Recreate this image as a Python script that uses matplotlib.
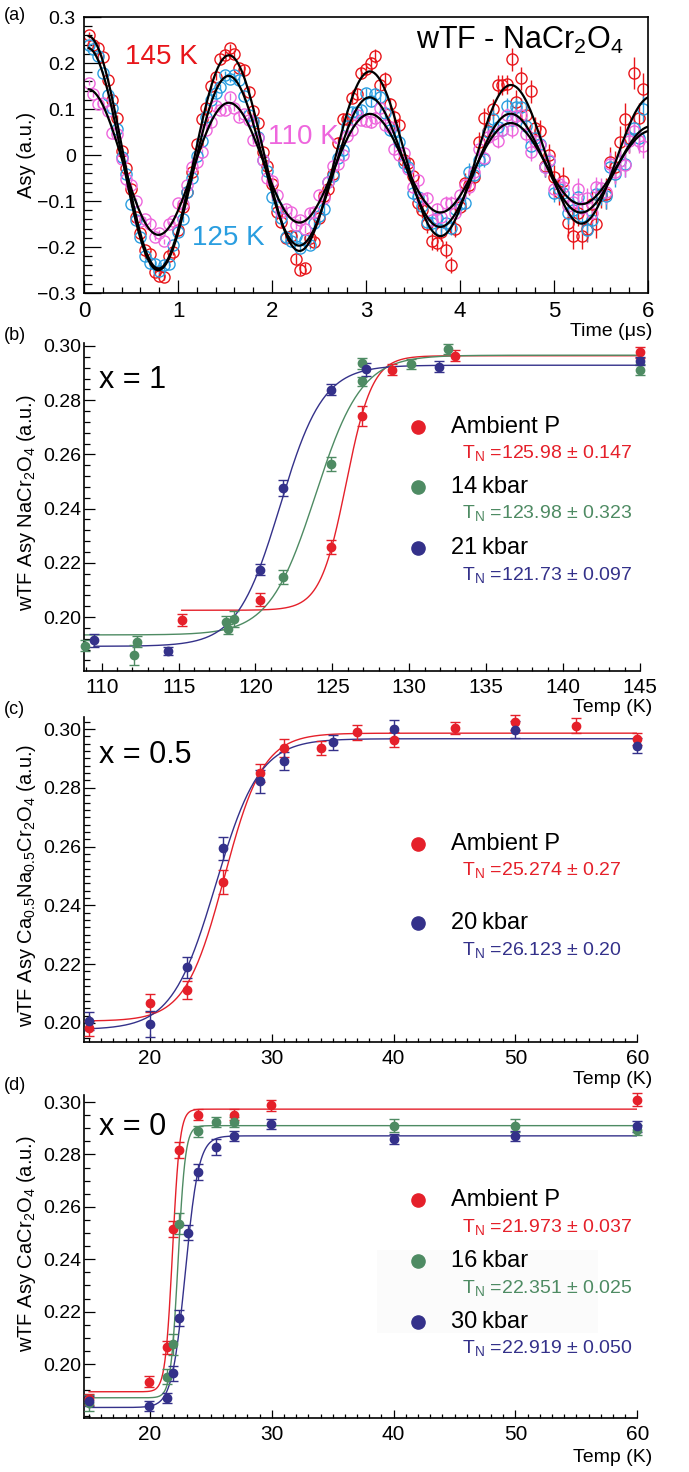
import numpy as np
import matplotlib.pyplot as plt
from matplotlib.ticker import MultipleLocator, FixedLocator, FuncFormatter
from matplotlib.lines import Line2D
from matplotlib.patches import Rectangle

plt.rcParams['font.family'] = ['Liberation Sans', 'DejaVu Sans']
plt.rcParams['mathtext.fontset'] = 'custom'
plt.rcParams['mathtext.rm'] = 'Liberation Sans'
plt.rcParams['mathtext.it'] = 'Liberation Sans:italic'
plt.rcParams['mathtext.default'] = 'regular'

# ---------------- panel (a): wTF time spectra ----------------
time_us = np.arange(0.05, 5.96, 0.05)   # 0.05 us bins

asy_145K = [0.261, 0.240, 0.233, 0.214, 0.162, 0.120, 0.080, 0.009, -0.028, -0.074,
            -0.135, -0.170, -0.206, -0.215, -0.254, -0.262, -0.265, -0.219, -0.210, -0.162,
            -0.114, -0.081, -0.038, 0.025, 0.079, 0.103, 0.149, 0.170, 0.208, 0.218,
            0.232, 0.220, 0.190, 0.184, 0.138, 0.095, 0.069, 0.006, -0.024, -0.063,
            -0.123, -0.145, -0.180, -0.176, -0.226, -0.250, -0.246, -0.180, -0.190, -0.137,
            -0.089, -0.073, -0.041, 0.027, 0.078, 0.079, 0.125, 0.132, 0.179, 0.186,
            0.199, 0.216, 0.153, 0.166, 0.110, 0.083, 0.065, -0.010, -0.018, -0.045,
            -0.105, -0.120, -0.151, -0.188, -0.191, -0.168, -0.206, -0.239, -0.161, -0.113,
            -0.060, -0.066, -0.047, 0.029, 0.081, 0.052, 0.100, 0.152, 0.152, 0.154,
            0.208, 0.116, 0.167, 0.086, 0.139, 0.058, 0.052, -0.023, 0.000, -0.047,
            -0.080, -0.056, -0.147, -0.175, -0.126, -0.175, -0.161, -0.106, -0.151, -0.087,
            -0.084, -0.016, -0.026, 0.028, 0.078, 0.038, 0.178, 0.080, 0.144]
asy_125K = [0.240, 0.231, 0.216, 0.178, 0.131, 0.102, 0.057, -0.004, -0.042, -0.107,
            -0.142, -0.178, -0.219, -0.235, -0.236, -0.253, -0.239, -0.236, -0.195, -0.168,
            -0.139, -0.081, -0.049, -0.002, 0.031, 0.083, 0.119, 0.134, 0.148, 0.175,
            0.166, 0.173, 0.163, 0.128, 0.087, 0.073, 0.039, -0.011, -0.034, -0.092,
            -0.113, -0.137, -0.179, -0.186, -0.175, -0.202, -0.185, -0.195, -0.148, -0.132,
            -0.117, -0.058, -0.046, -0.007, 0.011, 0.062, 0.093, 0.094, 0.098, 0.135,
            0.118, 0.132, 0.126, 0.092, 0.054, 0.052, 0.029, -0.017, -0.027, -0.082,
            -0.092, -0.110, -0.145, -0.148, -0.136, -0.162, -0.147, -0.159, -0.117, -0.106,
            -0.104, -0.036, -0.044, -0.010, -0.009, 0.049, 0.079, 0.060, 0.054, 0.106,
            0.076, 0.104, 0.104, 0.062, 0.019, 0.038, 0.025, -0.026, -0.014, -0.082,
            -0.074, -0.083, -0.126, -0.120, -0.092, -0.133, -0.162, -0.141, -0.084, -0.084,
            -0.089, -0.026, -0.041, -0.013, -0.019, 0.035, 0.059, 0.037, 0.100]
asy_110K = [0.157, 0.132, 0.110, 0.113, 0.096, 0.048, 0.045, -0.008, -0.052, -0.066,
            -0.100, -0.143, -0.140, -0.150, -0.179, -0.169, -0.188, -0.149, -0.144, -0.105,
            -0.107, -0.066, -0.026, -0.016, 0.007, 0.055, 0.071, 0.107, 0.098, 0.098,
            0.127, 0.103, 0.082, 0.089, 0.077, 0.033, 0.036, -0.011, -0.049, -0.057,
            -0.086, -0.124, -0.117, -0.124, -0.152, -0.142, -0.161, -0.125, -0.123, -0.088,
            -0.094, -0.058, -0.023, -0.019, -0.001, 0.042, 0.054, 0.088, 0.076, 0.075,
            0.071, 0.081, 0.102, 0.066, 0.061, 0.013, -0.001, 0.004, -0.031, -0.070,
            -0.055, -0.095, -0.094, -0.141, -0.118, -0.135, -0.104, -0.104, -0.125, -0.087,
            -0.065, -0.069, -0.036, 0.013, -0.006, 0.039, 0.046, 0.031, 0.055, 0.087,
            0.055, 0.085, 0.086, 0.046, 0.007, 0.030, 0.021, -0.026, -0.010, -0.074,
            -0.062, -0.069, -0.110, -0.103, -0.073, -0.115, -0.094, -0.125, -0.069, -0.072,
            -0.080, -0.020, -0.037, -0.013, -0.021, 0.031, 0.053, 0.030, 0.019]
# error bar size per 0.5 us block
err_145K = [0.006, 0.007, 0.008, 0.009, 0.011, 0.013, 0.015, 0.018, 0.021, 0.025, 0.029, 0.034]
err_125K = [0.005, 0.006, 0.007, 0.008, 0.009, 0.011, 0.013, 0.015, 0.018, 0.021, 0.025, 0.029]
err_110K = [0.005, 0.006, 0.007, 0.008, 0.009, 0.010, 0.012, 0.014, 0.016, 0.019, 0.022, 0.026]

# damped cosine fits: offset, amplitude, relaxation rate (1/us)
fit_a_offset = [-0.005, -0.025, -0.023]
fit_a_amp = [0.265, 0.26, 0.167]
fit_a_rate = [0.115, 0.18, 0.13]
fit_a_freq = 0.667   # MHz
fit_a_t0 = 0.05

# ---------------- panel (b): x = 1 ----------------
b_T = [[115.2, 120.3, 124.9, 126.9, 128.9, 133.0, 145.0],
       [108.9, 112.1, 112.3, 118.1, 118.2, 118.6, 121.8, 124.9, 126.9, 126.9, 130.1, 132.5, 145.0],
       [109.5, 114.3, 120.3, 121.8, 124.9, 127.2, 131.9, 145.0]]
b_A = [[0.1990, 0.2064, 0.2258, 0.2742, 0.2912, 0.2964, 0.2977],
       [0.1894, 0.1861, 0.1909, 0.1980, 0.1956, 0.1993, 0.2147, 0.2565, 0.2869, 0.2936, 0.2934, 0.2989, 0.2912],
       [0.1914, 0.1876, 0.2174, 0.2475, 0.2838, 0.2914, 0.2924, 0.2946]]
b_E = [[0.0022, 0.0025, 0.0025, 0.0037, 0.0020, 0.0020, 0.0020],
       [0.0020, 0.0037, 0.0020, 0.0025, 0.0020, 0.0030, 0.0025, 0.0025, 0.0015, 0.0020, 0.0018, 0.0018, 0.0020],
       [0.0025, 0.0015, 0.0020, 0.0030, 0.0020, 0.0025, 0.0020, 0.0015]]
b_fit_lo = [0.2025, 0.1934, 0.1892]
b_fit_hi = [0.2964, 0.2966, 0.2929]
b_fit_mid = [125.9, 123.9, 121.6]
b_fit_w = [0.85, 1.5, 1.4]
b_fit_tmin = [115.2, 108.9, 109.5]
b_labels = ['Ambient P', '14\u2009kbar', '21\u2009kbar']
b_tn = ['125.98 \u00b1 0.147', '123.98 \u00b1 0.323', '121.73 \u00b1 0.097']

# ---------------- panel (c): x = 0.5 ----------------
c_T = [[15.0, 20.0, 23.0, 26.0, 29.0, 31.0, 34.0, 37.0, 40.0, 45.0, 50.0, 55.0, 60.0],
       [15.0, 20.0, 23.0, 26.0, 29.0, 31.0, 35.0, 40.0, 50.0, 60.0]]
c_A = [[0.1982, 0.2068, 0.2113, 0.2480, 0.2850, 0.2935, 0.2935, 0.2989, 0.2964, 0.3003, 0.3023, 0.3011, 0.2966],
       [0.2006, 0.1997, 0.2189, 0.2594, 0.2822, 0.2892, 0.2955, 0.3000, 0.2998, 0.2943]]
c_E = [[0.0025, 0.0030, 0.0030, 0.0040, 0.0030, 0.0030, 0.0025, 0.0025, 0.0025, 0.0020, 0.0025, 0.0025, 0.0020],
       [0.0030, 0.0045, 0.0035, 0.0040, 0.0040, 0.0030, 0.0025, 0.0030, 0.0030, 0.0025]]
c_fit_lo = [0.2006, 0.1977]
c_fit_hi = [0.2986, 0.2967]
c_fit_mid = [26.1, 25.4]
c_fit_w = [1.6, 1.8]
c_labels = ['Ambient P', '20\u2009kbar']
c_tn = ['25.274 \u00b1 0.27', '26.123 \u00b1 0.20']

# ---------------- panel (d): x = 0 ----------------
d_T = [[15.0, 19.9, 21.4, 21.9, 22.4, 23.9, 26.9, 29.9, 60.0],
       [15.0, 21.4, 21.9, 22.4, 23.9, 25.4, 26.9, 40.0, 50.0, 60.0],
       [15.0, 19.9, 21.4, 21.9, 22.4, 23.1, 23.9, 25.4, 26.9, 29.9, 40.0, 50.0, 60.0]]
d_A = [[0.1865, 0.1933, 0.2064, 0.2516, 0.2818, 0.2952, 0.2952, 0.2987, 0.3009],
       [0.1850, 0.1952, 0.2076, 0.2535, 0.2888, 0.2924, 0.2924, 0.2910, 0.2910, 0.2894],
       [0.1859, 0.1839, 0.1871, 0.1964, 0.2175, 0.2502, 0.2732, 0.2828, 0.2871, 0.2917, 0.2859, 0.2871, 0.2907]]
d_E = [[0.0020, 0.0020, 0.0025, 0.0030, 0.0030, 0.0020, 0.0020, 0.0020, 0.0025],
       [0.0030, 0.0030, 0.0040, 0.0040, 0.0020, 0.0020, 0.0020, 0.0025, 0.0025, 0.0020],
       [0.0020, 0.0020, 0.0020, 0.0030, 0.0030, 0.0030, 0.0030, 0.0030, 0.0020, 0.0020, 0.0020, 0.0020, 0.0020]]
d_fit_lo = [0.1894, 0.1871, 0.1834]
d_fit_hi = [0.2973, 0.2910, 0.2871]
d_fit_mid = [21.85, 22.3, 22.9]
d_fit_w = [0.3, 0.3, 0.55]
d_labels = ['Ambient P', '16\u2009kbar', '30\u2009kbar']
d_tn = ['21.973 \u00b1 0.037', '22.351 \u00b1 0.025', '22.919 \u00b1 0.050']

y_major_ticks = [0.20, 0.22, 0.24, 0.26, 0.28, 0.30]

RED, GREEN, NAVY = '#e5202a', '#4e8b63', '#34318a'
A_COLS = ['#e8161b', '#2a9ee0', '#ee66dd']

W, H = 689, 1472
fig = plt.figure(figsize=(W / 100, H / 100), dpi=100)


def fx(x):
    return x / W


def fy(y):
    return 1 - y / H


def sigmoid(T, lo, hi, mid, w):
    return lo + (hi - lo) / (1 + np.exp(-(T - mid) / w))


# ---------- (a) ----------
ax = fig.add_axes([fx(84), fy(293), (648 - 84) / W, (293 - 17) / H])
for vals, errs, col in zip([asy_145K, asy_125K, asy_110K], [err_145K, err_125K, err_110K], A_COLS):
    yerr = np.repeat(errs, 10)[:len(time_us)]
    ax.errorbar(time_us, vals, yerr=yerr, fmt='o', ms=8, mfc='none', mec=col, mew=1.0,
                ecolor=col, elinewidth=1.0, capsize=0, zorder=2)
t_fit = np.linspace(0.05, 6.0, 600)
for off, amp, rate in zip(fit_a_offset, fit_a_amp, fit_a_rate):
    ax.plot(t_fit, off + amp * np.exp(-rate * t_fit) * np.cos(2 * np.pi * fit_a_freq * (t_fit - fit_a_t0)),
            color='black', lw=1.6, zorder=5)
ax.set_xlim(0, 6)
ax.set_ylim(-0.3, 0.3)
ax.xaxis.set_major_locator(MultipleLocator(1))
ax.xaxis.set_minor_locator(MultipleLocator(0.2))
ax.yaxis.set_major_locator(MultipleLocator(0.1))
ax.yaxis.set_minor_locator(MultipleLocator(0.02))
ax.yaxis.set_major_formatter(FuncFormatter(
    lambda v, p: '0' if abs(v) < 1e-9 else ('%.1f' % v).replace('-', '\u2212')))
ax.tick_params(axis='both', which='both', direction='in', width=0.9)
ax.tick_params(axis='y', which='major', length=12.5, labelsize=14, pad=6)
ax.tick_params(axis='y', which='minor', length=6)
ax.tick_params(axis='x', which='major', length=9.5, labelsize=16, pad=6)
ax.tick_params(axis='x', which='minor', length=4.5)
for s in ax.spines.values():
    s.set_linewidth(1.2)
ax.text(0.44, 0.213, '145 K', color=A_COLS[0], fontsize=20, ha='left', va='center', zorder=6)
ax.text(1.15, -0.18, '125 K', color=A_COLS[1], fontsize=20, ha='left', va='center', zorder=6)
ax.text(1.96, 0.04, '110 K', color=A_COLS[2], fontsize=20, ha='left', va='center', zorder=6)
ax.text(4.64, 0.25, 'wTF - NaCr$_2$O$_4$', fontsize=22, ha='center', va='center', zorder=6)
fig.text(fx(27), fy(155), 'Asy (a.u.)', rotation=90, ha='center', va='center', fontsize=14.5)
fig.text(fx(652), fy(331), 'Time (\u03bcs)', ha='right', va='center', fontsize=14)
fig.text(fx(4), fy(15), '(a)', ha='left', va='center', fontsize=13)


def temp_panel(rect, xlim, ylim, xmaj, xmin, ymin, Ts, As, Es, lo, hi, mid, w, tmins, cols,
               labels, tns, leg_y, xtxt, ytxt, ylabel, ylab_y, tag, tag_y, temp_y):
    ax = fig.add_axes(rect)
    for i, col in enumerate(cols):
        tf = np.linspace(tmins[i], xlim[1], 500)
        ax.plot(tf, sigmoid(tf, lo[i], hi[i], mid[i], w[i]), color=col, lw=1.0, zorder=2)
        ax.errorbar(Ts[i], As[i], yerr=Es[i], fmt='o', ms=6, color=col, ecolor=col,
                    elinewidth=1.0, capsize=3.5, capthick=1.0, zorder=3, clip_on=False)
    ax.set_xlim(*xlim)
    ax.set_ylim(*ylim)
    ax.spines['top'].set_visible(False)
    ax.spines['right'].set_visible(False)
    for s in ('left', 'bottom'):
        ax.spines[s].set_linewidth(1.2)
    ax.xaxis.set_major_locator(MultipleLocator(xmaj))
    ax.xaxis.set_minor_locator(MultipleLocator(xmin))
    ax.yaxis.set_major_locator(FixedLocator(y_major_ticks))
    ax.yaxis.set_minor_locator(MultipleLocator(ymin))
    ax.yaxis.set_major_formatter(FuncFormatter(lambda v, p: '%.2f' % v))
    ax.tick_params(axis='both', which='both', direction='in', width=0.9)
    ax.tick_params(axis='y', which='major', length=8, labelsize=14, pad=2)
    ax.tick_params(axis='y', which='minor', length=4.3)
    ax.tick_params(axis='x', which='major', length=6, labelsize=15, pad=5)
    ax.tick_params(axis='x', which='minor', length=3.2)
    for i, col in enumerate(cols):
        ly, ty = leg_y[i]
        fig.add_artist(Line2D([fx(418)], [fy(ly)], marker='o', ms=9.5, color=col, lw=0))
        fig.text(fx(451), fy(ly), labels[i], fontsize=17, ha='left', va='center')
        fig.text(fx(462), fy(ty), 'T$_{\\mathregular{N}}$ =' + tns[i], color=col, fontsize=14,
                 ha='left', va='center')
    fig.text(fx(xtxt), fy(ytxt), tag[1], fontsize=22, ha='left', va='center')
    fig.text(fx(27), fy(ylab_y), ylabel, rotation=90, ha='center', va='center', fontsize=14.5)
    fig.text(fx(4), fy(tag_y), tag[0], ha='left', va='center', fontsize=13)
    fig.text(fx(652), fy(temp_y), 'Temp (K)', ha='right', va='center', fontsize=14)
    return ax


temp_panel([fx(84), fy(670.7), (640 - 84) / W, (670.7 - 343) / H], (108.85, 145), (0.1802, 0.3011),
           5, 1, 0.004, b_T, b_A, b_E, b_fit_lo, b_fit_hi, b_fit_mid, b_fit_w, b_fit_tmin,
           [RED, GREEN, NAVY], b_labels, b_tn, [(427, 453), (487, 513), (548, 575)],
           99, 380, 'wTF Asy NaCr$_2$O$_4$ (a.u.)', 503, ('(b)', 'x = 1'), 336, 707)

temp_panel([fx(84), fy(1042), (637.3 - 84) / W, (1042 - 717) / H], (14.58, 60), (0.1935, 0.3041),
           10, 1, 0.0025, c_T, c_A, c_E, c_fit_lo, c_fit_hi, c_fit_mid, c_fit_w, [15.0, 15.0],
           [RED, NAVY], c_labels, c_tn, [(844, 870), (923, 950)],
           99, 755, 'wTF Asy Ca$_{0.5}$Na$_{0.5}$Cr$_2$O$_4$ (a.u.)', 885, ('(c)', 'x = 0.5'), 710, 1080)

ax_d = temp_panel([fx(84), fy(1417.7), (637.3 - 84) / W, (1417.7 - 1095) / H], (14.58, 60), (0.1795, 0.3027),
                  10, 1, 0.005, d_T, d_A, d_E, d_fit_lo, d_fit_hi, d_fit_mid, d_fit_w, [15.0, 15.0, 15.0],
                  [RED, GREEN, NAVY], d_labels, d_tn, [(1200, 1227), (1261, 1288), (1322, 1348)],
                  99, 1127, 'wTF Asy CaCr$_2$O$_4$ (a.u.)', 1244, ('(d)', 'x = 0'), 1085, 1457)
ax_d.add_patch(Rectangle((fx(377), fy(1333)), (598 - 377) / W, (1333 - 1250) / H,
                         transform=fig.transFigure, color='#fbfbfb', lw=0, zorder=0.5))

fig.savefig('out.png', dpi=100)
